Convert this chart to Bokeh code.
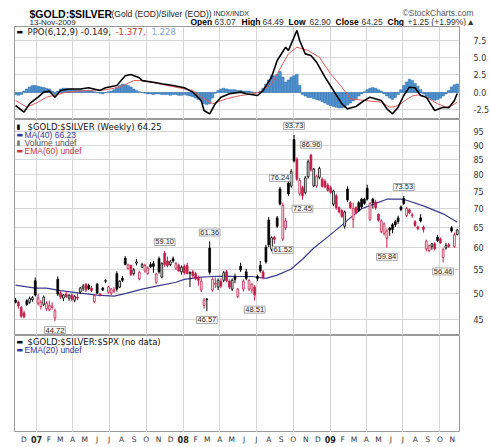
from datetime import datetime, timedelta
from bokeh.plotting import figure
from bokeh.layouts import column
from bokeh.models import Range1d, FixedTicker, PrintfTickFormatter, Label, ColumnDataSource
from bokeh.core.properties import value
from bokeh.embed import file_html
from bokeh.resources import INLINE

# ---------------- data (weekly) ----------------
first_week = datetime(2006, 11, 10)

open_ = [48.6, 48.2, 47.2, 46.2, 48.5, 48.2, 48.7, 52.5, 48.0, 47.4,
         47.8, 47.0, 46.8, 47.2, 45.3, 52.8, 50.0, 49.0, 49.8, 49.0,
         49.6, 48.6, 49.2, 50.2, 51.0, 51.8, 51.5, 51.0, 48.3, 51.8,
         49.8, 51.0, 52.4, 50.2, 50.0, 50.4, 54.0, 51.2, 53.0, 57.4,
         55.1, 55.8, 54.0, 56.3, 52.9, 55.4, 54.6, 54.0, 56.0, 56.2,
         52.2, 57.3, 53.3, 58.6, 56.8, 56.0, 57.3, 55.2, 55.8, 54.4,
         55.6, 55.8, 54.2, 54.4, 54.0, 53.0, 50.6, 47.6, 48.8, 59.8,
         50.6, 51.8, 51.2, 52.4, 52.6, 54.4, 52.4, 50.8, 53.4, 49.3,
         55.6, 50.8, 54.4, 50.8, 50.6, 51.2, 53.4, 55.8, 54.4, 60.0,
         66.8, 59.5, 62.4, 67.4, 75.6, 62.0, 64.8, 77.4, 76.5, 92.0,
         85.0, 74.2, 76.0, 74.6, 79.4, 86.5, 76.6, 76.6, 79.2, 78.6,
         78.0, 76.8, 76.0, 71.2, 73.6, 70.2, 69.4, 65.2, 75.6, 71.6,
         67.0, 70.2, 71.6, 72.6, 72.6, 75.8, 67.0, 72.6, 71.8, 68.4,
         63.8, 63.4, 62.2, 64.7, 65.6, 66.4, 67.4, 70.4, 72.8, 68.0,
         69.6, 68.2, 66.4, 65.0, 67.4, 65.0, 59.6, 59.2, 60.2, 60.8,
         62.4, 62.0, 57.6, 59.8, 60.6, 64.8, 60.2, 63.07]

high = [49.0, 48.5, 47.5, 46.6, 48.8, 49.3, 49.4, 53.2, 49.8, 48.6,
        49.5, 48.4, 48.5, 48.2, 47.0, 53.4, 50.4, 49.8, 50.3, 49.8,
        50.0, 49.6, 50.0, 51.2, 51.8, 52.0, 51.9, 51.4, 49.8, 52.0,
        50.0, 51.2, 52.8, 51.5, 51.0, 51.2, 54.5, 52.6, 53.5, 57.9,
        56.2, 56.0, 55.2, 57.2, 54.6, 56.4, 56.2, 55.6, 56.6, 56.8,
        54.2, 57.8, 56.5, 59.10, 57.8, 57.0, 57.8, 56.6, 56.2, 55.8,
        56.0, 56.4, 54.5, 54.8, 54.4, 53.6, 53.2, 49.0, 49.0, 61.36,
        53.2, 53.2, 53.0, 53.0, 54.6, 54.8, 52.8, 53.0, 54.0, 51.0,
        56.4, 52.8, 55.0, 52.8, 52.0, 51.6, 53.8, 56.8, 54.8, 60.6,
        67.6, 62.6, 62.8, 67.9, 76.24, 71.6, 67.4, 78.2, 81.8, 93.73,
        85.8, 79.0, 76.6, 79.6, 85.0, 86.96, 82.2, 80.0, 82.6, 79.2,
        78.6, 77.4, 76.6, 75.4, 74.2, 70.6, 69.8, 69.4, 76.4, 72.0,
        71.6, 70.6, 72.0, 73.0, 73.0, 76.9, 71.8, 73.0, 72.4, 68.6,
        67.0, 66.2, 64.6, 65.0, 66.0, 66.8, 68.0, 70.8, 73.53, 70.4,
        70.0, 68.8, 66.8, 65.4, 68.4, 65.4, 61.8, 60.6, 61.0, 61.2,
        63.0, 62.4, 59.8, 61.0, 61.0, 65.2, 63.6, 64.49]

low = [48.0, 47.0, 45.3, 45.2, 47.5, 47.9, 48.3, 49.3, 47.6, 46.8,
       47.5, 46.6, 46.5, 46.8, 44.72, 49.4, 48.8, 48.4, 49.0, 48.5,
       48.4, 48.2, 48.6, 49.8, 50.4, 50.2, 50.6, 50.2, 48.0, 49.8,
       49.3, 50.4, 52.0, 49.9, 49.6, 50.0, 50.3, 51.0, 52.3, 55.8,
       54.9, 53.5, 53.6, 55.8, 52.6, 55.2, 54.2, 53.8, 55.2, 54.2,
       51.8, 54.0, 53.0, 55.5, 55.4, 55.6, 56.4, 54.8, 54.3, 53.8,
       53.8, 53.9, 51.2, 53.2, 52.6, 51.5, 50.2, 47.0, 46.57, 53.8,
       50.3, 51.0, 50.6, 51.0, 52.2, 52.2, 50.8, 50.4, 52.0, 49.0,
       54.4, 50.3, 52.6, 50.4, 50.0, 48.51, 52.4, 54.2, 52.8, 56.2,
       60.0, 59.0, 60.8, 64.8, 70.8, 61.52, 64.2, 73.6, 76.0, 84.0,
       78.0, 73.6, 72.45, 74.0, 78.8, 81.0, 76.2, 76.0, 78.6, 76.0,
       75.8, 74.8, 74.2, 70.6, 69.6, 68.6, 67.4, 64.6, 71.8, 69.8,
       64.8, 68.4, 69.0, 70.0, 71.0, 72.2, 66.6, 70.0, 69.6, 66.4,
       63.4, 62.8, 59.84, 62.8, 63.4, 65.0, 65.8, 69.2, 71.0, 67.6,
       68.4, 67.4, 65.0, 64.2, 66.2, 63.6, 59.0, 58.8, 59.4, 59.2,
       61.2, 60.8, 56.46, 59.4, 59.8, 63.6, 59.8, 62.90]

close = [48.2, 47.5, 45.6, 45.5, 47.8, 48.9, 49.1, 49.6, 49.0, 48.2,
         49.2, 48.0, 47.6, 47.5, 46.6, 49.8, 49.2, 49.6, 49.3, 49.5,
         48.8, 49.3, 49.0, 51.0, 51.4, 50.6, 50.9, 50.5, 49.5, 50.0,
         49.6, 50.6, 52.6, 51.2, 50.8, 50.6, 50.8, 52.4, 52.6, 56.0,
         55.9, 53.8, 54.8, 56.6, 54.3, 56.0, 55.8, 55.2, 55.5, 55.6,
         53.9, 54.4, 56.2, 56.0, 55.8, 56.6, 56.8, 56.2, 54.6, 55.4,
         54.2, 54.0, 54.1, 53.6, 52.9, 52.6, 52.4, 48.6, 48.7, 54.3,
         52.8, 52.0, 52.6, 51.4, 54.2, 52.5, 51.2, 52.6, 52.8, 50.8,
         54.8, 52.4, 53.0, 52.6, 51.8, 49.6, 53.0, 54.6, 53.2, 56.6,
         60.6, 62.3, 61.9, 65.2, 71.2, 70.8, 66.6, 74.2, 81.0, 84.6,
         78.6, 78.2, 73.6, 79.0, 84.2, 81.6, 81.8, 79.4, 82.0, 76.4,
         76.2, 75.2, 74.6, 75.0, 70.2, 69.0, 67.8, 69.0, 72.4, 70.2,
         70.0, 68.8, 69.4, 70.4, 71.4, 72.6, 71.4, 71.6, 70.2, 66.8,
         66.6, 65.8, 64.0, 64.2, 64.4, 65.6, 66.4, 69.7, 71.4, 70.0,
         68.8, 68.0, 65.4, 64.6, 66.6, 64.4, 61.4, 60.4, 60.8, 59.6,
         61.6, 61.0, 59.4, 60.4, 60.2, 64.0, 63.0, 64.25]

# MA(40) read at sample weeks
ma_week = [0, 7, 11, 16, 23, 29, 35, 39, 45, 51, 57, 60, 65, 70, 74, 79, 84, 89, 93, 98,
           102, 106, 111, 116, 119, 123, 129, 132, 137, 139, 145, 152, 157]
ma_val = [51.6, 51.0, 51.0, 50.5, 50.0, 49.6, 49.4, 49.9, 50.8, 51.5, 52.2, 52.8, 53.2, 53.4,
          53.5, 53.4, 53.4, 53.0, 53.7, 55.0, 57.2, 59.8, 62.5, 65.5, 67.4, 69.9, 71.7, 72.6,
          72.6, 72.3, 70.7, 68.5, 66.23]

# PPO(6,12,9) line read at sample weeks
ppo_week = [0, 3, 5, 8, 10, 12, 14, 16, 19, 23, 26, 30, 32, 36, 39, 41, 44, 45, 49, 52,
            56, 60, 63, 66, 67, 69, 71, 73, 76, 80, 82, 86, 88, 91, 93, 96, 97, 98, 100, 101,
            103, 105, 107, 110, 113, 116, 118, 121, 124, 126, 130, 132, 134, 136, 138, 140,
            142, 144, 146, 149, 152, 154, 156, 157]
ppo_val = [-1.86, -2.8, -1.6, -0.67, 0.05, 0.2, -0.67, 0.28, 0.5, 0.5,
           0.67, 0.28, 0.67, 1.0, 2.4, 2.57, 2.1, 1.7, 1.47, 1.24,
           1.0, 0.67, 0.05, -1.14, -2.57, -3.05, -1.6, -0.67, -0.19, 0.05,
           -0.19, -0.43, 0.28, 2.2, 4.57, 6.47, 6.0, 6.95, 8.86, 7.43,
           5.52, 5.29, 4.33, 2.19, 0.28, -1.62, -2.33, -2.0, -1.14, -0.67,
           -1.14, -2.33, -3.05, -2.1, -0.43, 0.76, 0.67, -0.43, -0.67, -2.57,
           -2.1, -2.19, -1.14, -0.149]

# signal line read at sample weeks
sig_week = [0, 4, 8, 11, 15, 18, 25, 32, 37, 42, 45, 51, 58, 63, 67, 70, 75, 80, 82, 87,
            91, 95, 97, 100, 104, 108, 112, 116, 119, 124, 130, 133, 135, 137, 139, 141,
            144, 147, 150, 153, 155, 157]
sig_val = [-1.14, -2.1, -1.38, -0.67, -0.29, 0.05, 0.28, 0.38, 0.76, 1.7, 1.7, 1.24, 0.67,
           0.28, -0.9, -1.62, -0.9, -0.43, -0.33, 0.05, 1.24, 4.1, 5.52, 6.47, 6.0, 5.05,
           2.67, 0.76, -0.9, -1.14, -1.38, -2.1, -2.0, -1.6, -1.0, -0.5, -0.3, -0.9, -1.6,
           -2.1, -1.9, -1.377]

# PPO histogram, one value per week
hist = [-0.3, -0.4, -0.3, 0.2, 0.5, 0.8, 1.0, 1.0, 0.9, 0.8,
        0.7, 0.6, 0.5, 0.2, -0.3, 0.2, 0.5, 0.6, 0.6, 0.5,
        0.5, 0.4, 0.4, 0.4, 0.3, 0.3, 0.3, 0.2, 0.1, 0.0,
        -0.1, -0.2, 0.0, 0.1, 0.2, 0.4, 0.7, 1.0, 1.2, 1.1,
        1.0, 0.8, 0.5, 0.3, 0.1, 0.0, -0.1, -0.2, -0.2, -0.3,
        -0.2, -0.2, -0.3, -0.3, -0.3, -0.4, -0.3, -0.3, -0.4, -0.4,
        -0.3, -0.4, -0.5, -0.6, -0.8, -1.0, -1.3, -1.6, -1.7, -1.6,
        -0.8, -0.1, 0.3, 0.5, 0.6, 0.5, 0.4, 0.4, 0.4, 0.3,
        0.3, 0.2, 0.2, 0.2, 0.1, -0.1, 0.0, 0.2, 0.6, 1.2,
        1.8, 2.4, 2.4, 2.6, 3.0, 2.2, 1.5, 1.8, 2.2, 2.4,
        2.6, 1.0, -0.3, -0.5, -0.7, -0.7, -0.9, -1.0, -1.1, -1.3,
        -1.5, -1.7, -1.9, -2.0, -2.1, -2.2, -2.2, -2.1, -1.8, -1.5,
        -1.2, -0.9, -0.5, -0.2, 0.1, 0.4, 0.6, 0.7, 0.6, 0.4,
        0.2, -0.2, -0.5, -0.8, -1.0, -0.7, -0.3, 0.4, 1.0, 1.5,
        1.9, 1.7, 1.3, 0.9, 0.4, -0.2, -0.5, -0.8, -1.0, -1.1,
        -1.0, -0.8, -0.5, -0.2, 0.3, 0.8, 1.1, 1.228]

# annotated highs / lows
lab_week = [14, 53, 68, 69, 85, 95, 94, 99, 102, 105, 132, 138, 152]
lab_val = [44.72, 59.10, 46.57, 61.36, 48.51, 61.52, 76.24, 93.73, 72.45, 86.96, 59.84, 73.53, 56.46]
lab_side = ["below", "above", "below", "above", "below", "below", "above", "above",
            "below", "above", "below", "above", "below"]

ppo_ticks = [-2.5, 0.0, 2.5, 5.0, 7.5]
price_ticks = [45, 50, 55, 60, 65, 70, 75, 80, 85, 90, 95]
month_letters = ["J", "F", "M", "A", "M", "J", "J", "A", "S", "O", "N", "D"]

# ---------------- helpers ----------------
DAY = 86400000.0


def ms(d):
    return (d - datetime(1970, 1, 1)).total_seconds() * 1000.0


x_ms = [ms(first_week + timedelta(days=7 * i)) for i in range(len(close))]

RED = "#c41e4a"
GRID = "#d6d6d6"
OUTLINE = "#9a9a9a"
FW = 445
LB = 14

xr = Range1d(start=ms(datetime(2006, 11, 7, 8)), end=ms(datetime(2009, 11, 18, 17)))
quarter_ms = [ms(datetime(y, m, 1)) for y in (2007, 2008, 2009) for m in (1, 4, 7, 10)]
months = []
y, m = 2006, 12
while (y, m) <= (2009, 11):
    months.append(datetime(y, m, 1))
    m += 1
    if m > 12:
        m, y = 1, y + 1
month_ms = [ms(d) for d in months]


def style_panel(p):
    p.outline_line_color = OUTLINE
    p.outline_line_width = 1
    p.background_fill_color = "white"
    p.border_fill_color = "white"
    p.xgrid.ticker = FixedTicker(ticks=quarter_ms)
    p.xgrid.grid_line_color = GRID


def style_yaxis(p):
    ax = p.yaxis[0]
    ax.axis_line_color = None
    ax.major_tick_line_color = None
    ax.minor_tick_line_color = None
    ax.major_label_text_font = "DejaVu Sans"
    ax.major_label_text_font_size = "8px"
    ax.major_label_text_color = "#333333"
    ax.major_label_standoff = 8
    p.ygrid.grid_line_color = GRID


def leg(p, x, y, txt, color, font="DejaVu Sans", size="8.5px"):
    p.add_layout(Label(x=x, y=y, x_units="screen", y_units="screen", text=txt,
                       text_color=color, text_font=font, text_font_size=size,
                       text_baseline="middle", text_align="left"))


# ---------------- header ----------------
hdr = figure(frame_width=486, frame_height=26, x_range=Range1d(0, 486), y_range=Range1d(26, 0),
             x_axis_location=None, y_axis_location=None, toolbar_location=None,
             output_backend="svg", min_border=0, outline_line_color=None)
hdr.grid.visible = False


def htext(x, y, t, size, style="normal", color="#000000", font="Liberation Sans"):
    hdr.text(x=[x], y=[y], text=[t], text_font=value(font), text_font_size=value(size),
             text_font_style=value(style), text_color=color, text_align="left",
             text_baseline="alphabetic")


htext(15, 13, "$GOLD:$SILVER", "10.5px", "bold")
htext(97, 13, "(Gold (EOD)/Silver (EOD))", "8.5px", color="#222222")
htext(199, 13, "INDX/INDX", "7px", color="#222222")
htext(388, 12, "\u00a9StockCharts.com", "8.5px", color="#555555")
htext(15, 21.5, "13-Nov-2009", "8px", color="#222222")
for hx, t, st in [(176, "Open", "bold"), (200, "63.07", "normal"), (227, "High", "bold"),
                  (248, "64.49", "normal"), (274, "Low", "bold"), (295, "62.90", "normal"),
                  (321, "Close", "bold"), (347, "64.25", "normal"), (373, "Chg", "bold"),
                  (393, "+1.25 (+1.99%)", "normal"), (452, "\u25b2", "normal")]:
    htext(hx, 21.5, t, "8.5px", st, color="#000000" if st == "bold" else "#333333")

# ---------------- PPO panel ----------------
p1 = figure(frame_width=FW, frame_height=93, x_range=xr, y_range=Range1d(-3.86, 9.43),
            x_axis_location=None, y_axis_location="right", toolbar_location=None,
            output_backend="svg", min_border_left=LB, min_border_right=4,
            min_border_top=0, min_border_bottom=0)
style_panel(p1)
p1.yaxis.ticker = FixedTicker(ticks=ppo_ticks)
p1.yaxis.formatter = PrintfTickFormatter(format="%.1f")
style_yaxis(p1)
p1.vbar(x=x_ms, top=hist, bottom=0, width=6.5 * DAY, fill_color="#4f93d0",
        line_color="#2a6aa8", line_width=0.5)
p1.line(x=[x_ms[i] for i in sig_week], y=sig_val, line_color="#e05a5a", line_width=1)
p1.line(x=[x_ms[i] for i in ppo_week], y=ppo_val, line_color="#000000", line_width=1.6)
leg(p1, 2, 88, "\u25ac", "#000000", size="7px")
leg(p1, 13, 88, "PPO(6,12,9) -0.149,", "#222222")
leg(p1, 101, 88, "-1.377,", "#cc3333")
leg(p1, 137, 88, "1.228", "#7fa7d0")

# ---------------- price panel ----------------
p2 = figure(frame_width=FW, frame_height=216, x_range=xr, y_range=Range1d(42.24, 99.65),
            y_axis_type="log", x_axis_location=None, y_axis_location="right",
            toolbar_location=None, output_backend="svg", min_border_left=LB,
            min_border_right=4, min_border_top=0, min_border_bottom=0)
style_panel(p2)
p2.yaxis.ticker = FixedTicker(ticks=price_ticks)
p2.yaxis.formatter = PrintfTickFormatter(format="%d")
style_yaxis(p2)

line_col = []
fill_col = []
for i in range(len(close)):
    up = i == 0 or close[i] >= close[i - 1]
    col = "#000000" if up else RED
    line_col.append(col)
    fill_col.append(col if close[i] < open_[i] else "white")
src = ColumnDataSource(dict(x=x_ms, o=open_, h=high, l=low, c=close,
                            top=[max(a, b) for a, b in zip(open_, close)],
                            bot=[min(a, b) for a, b in zip(open_, close)],
                            lc=line_col, fc=fill_col))
p2.line(x=[x_ms[i] for i in ma_week], y=ma_val, line_color="#3b3b8f", line_width=1.2)
p2.segment(x0="x", y0="l", x1="x", y1="h", line_color="lc", line_width=1, source=src)
p2.vbar(x="x", width=4.5 * DAY, top="top", bottom="bot", fill_color="fc", line_color="lc",
        line_width=0.8, source=src)

for w, v, side in zip(lab_week, lab_val, lab_side):
    p2.add_layout(Label(x=x_ms[w], y=v, text="%.2f" % v, x_offset=0,
                        y_offset=9 if side == "above" else -9,
                        text_align="center", text_baseline="middle",
                        text_font="Liberation Sans", text_font_size="7.5px",
                        text_color="#222222", background_fill_color="white",
                        border_line_color="#a8a8a8", border_line_width=1, padding=1))

leg(p2, 2, 209, "\u25ae", "#000000", size="7px")
leg(p2, 13, 209, "$GOLD:$SILVER (Weekly) 64.25", "#111111")
leg(p2, 2, 201, "\u25ac", "#333399", size="7px")
leg(p2, 10, 201, "MA(40) 66.23", "#333399", font="Liberation Sans", size="8.5px")
leg(p2, 2, 193, "\u25ae", "#777777", size="7px")
leg(p2, 10, 193, "Volume undef", "#555555", font="Liberation Sans", size="8.5px")
leg(p2, 2, 185, "\u25ac", "#cc3333", size="7px")
leg(p2, 10, 185, "EMA(60) undef", "#cc3333", font="Liberation Sans", size="8.5px")

# ---------------- bottom panel ----------------
p3 = figure(frame_width=FW, frame_height=97, x_range=xr, y_range=Range1d(0, 1),
            x_axis_location=None, y_axis_location=None, toolbar_location=None,
            output_backend="svg", min_border_left=LB, min_border_right=28,
            min_border_top=0, min_border_bottom=0)
style_panel(p3)
p3.ygrid.visible = False
leg(p3, 2, 91, "\u25ac", "#000000", size="7px")
leg(p3, 13, 91, "$GOLD:$SILVER:$SPX (no data)", "#111111")
leg(p3, 2, 83, "\u25ac", "#333399", size="7px")
leg(p3, 10, 83, "EMA(20) undef", "#333399", font="Liberation Sans", size="8.5px")

# ---------------- month / year labels row ----------------
p4 = figure(frame_width=FW, frame_height=14, x_range=xr, y_range=Range1d(14, 0),
            x_axis_location=None, y_axis_location=None, toolbar_location=None,
            output_backend="svg", min_border_left=LB, min_border_right=28,
            min_border_top=0, min_border_bottom=0, outline_line_color=None)
p4.grid.visible = False
mon_x = [t for t, d in zip(month_ms, months) if d.month != 1]
mon_t = [month_letters[d.month - 1] for d in months if d.month != 1]
yr_x = [t for t, d in zip(month_ms, months) if d.month == 1]
yr_t = [d.strftime("%y") for d in months if d.month == 1]
p4.text(x=mon_x, y=[6.5] * len(mon_x), text=mon_t, text_font=value("DejaVu Sans"),
        text_font_size=value("7.5px"), text_color="#333333", text_align="center",
        text_baseline="middle")
p4.text(x=yr_x, y=[6.5] * len(yr_x), text=yr_t, text_font=value("DejaVu Sans"),
        text_font_size=value("8px"), text_font_style=value("bold"), text_color="#222222",
        text_align="center", text_baseline="middle")

layout = column(hdr, p1, p2, p3, p4, spacing=0)
open("out.html", "w").write(file_html(layout, INLINE))
